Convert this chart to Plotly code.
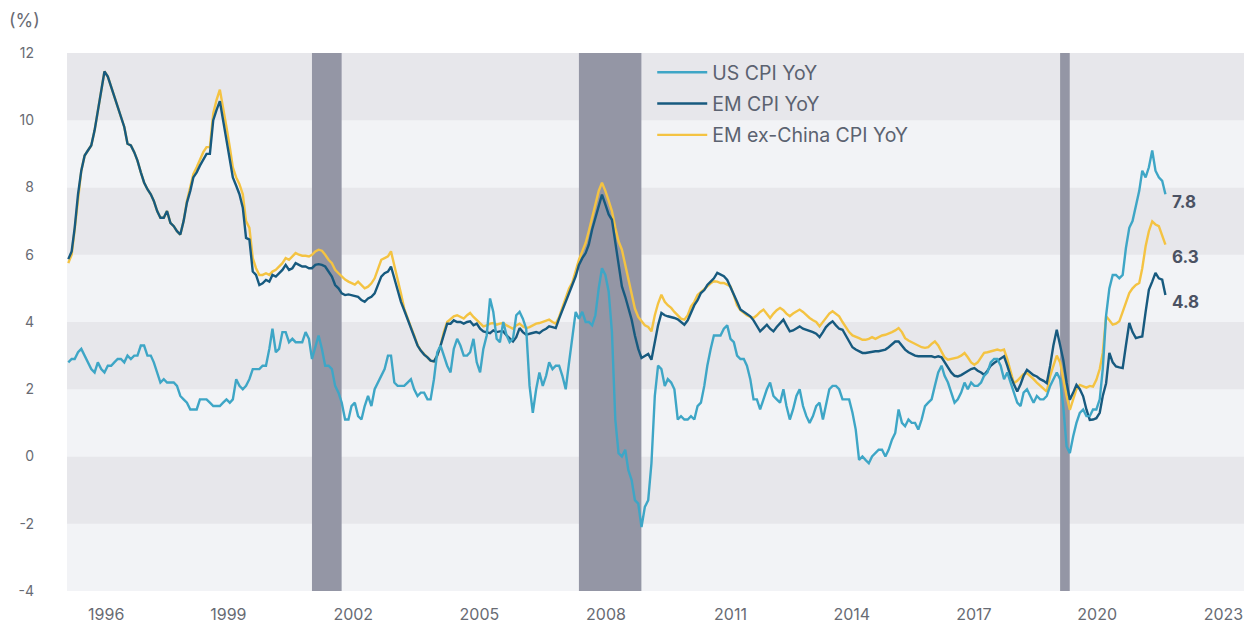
import pandas as pd
import plotly.graph_objects as go

months = pd.date_range("1995-01-01", "2022-10-01", freq="MS")

us_cpi = [
    2.8, 2.9, 2.9, 3.1, 3.2, 3.0, 2.8, 2.6, 2.5, 2.8, 2.6, 2.5,
    2.7, 2.7, 2.8, 2.9, 2.9, 2.8, 3.0, 2.9, 3.0, 3.0, 3.3, 3.3,
    3.0, 3.0, 2.8, 2.5, 2.2, 2.3, 2.2, 2.2, 2.2, 2.1, 1.8, 1.7,
    1.6, 1.4, 1.4, 1.4, 1.7, 1.7, 1.7, 1.6, 1.5, 1.5, 1.5, 1.6,
    1.7, 1.6, 1.7, 2.3, 2.1, 2.0, 2.1, 2.3, 2.6, 2.6, 2.6, 2.7,
    2.7, 3.2, 3.8, 3.1, 3.2, 3.7, 3.7, 3.4, 3.5, 3.4, 3.4, 3.4,
    3.7, 3.5, 2.9, 3.3, 3.6, 3.2, 2.7, 2.7, 2.6, 2.1, 1.9, 1.6,
    1.1, 1.1, 1.5, 1.6, 1.2, 1.1, 1.5, 1.8, 1.5, 2.0, 2.2, 2.4,
    2.6, 3.0, 3.0, 2.2, 2.1, 2.1, 2.1, 2.2, 2.3, 2.0, 1.8, 1.9,
    1.9, 1.7, 1.7, 2.3, 3.1, 3.3, 3.0, 2.7, 2.5, 3.2, 3.5, 3.3,
    3.0, 3.0, 3.1, 3.5, 2.8, 2.5, 3.2, 3.6, 4.7, 4.3, 3.5, 3.4,
    4.0, 3.6, 3.4, 3.5, 4.2, 4.3, 4.1, 3.8, 2.1, 1.3, 2.0, 2.5,
    2.1, 2.4, 2.8, 2.6, 2.7, 2.7, 2.4, 2.0, 2.8, 3.5, 4.3, 4.1,
    4.3, 4.0, 4.0, 3.9, 4.2, 5.0, 5.6, 5.4, 4.9, 3.7, 1.1, 0.1,
    0.0, 0.2, -0.4, -0.7, -1.3, -1.4, -2.1, -1.5, -1.3, -0.2, 1.8, 2.7,
    2.6, 2.1, 2.3, 2.2, 2.0, 1.1, 1.2, 1.1, 1.1, 1.2, 1.1, 1.5,
    1.6, 2.1, 2.7, 3.2, 3.6, 3.6, 3.6, 3.8, 3.9, 3.5, 3.4, 3.0,
    2.9, 2.9, 2.7, 2.3, 1.7, 1.7, 1.4, 1.7, 2.0, 2.2, 1.8, 1.7,
    1.6, 2.0, 1.5, 1.1, 1.4, 1.8, 2.0, 1.5, 1.2, 1.0, 1.2, 1.5,
    1.6, 1.1, 1.5, 2.0, 2.1, 2.1, 2.0, 1.7, 1.7, 1.7, 1.3, 0.8,
    -0.1, 0.0, -0.1, -0.2, 0.0, 0.1, 0.2, 0.2, 0.0, 0.2, 0.5, 0.7,
    1.4, 1.0, 0.9, 1.1, 1.0, 1.0, 0.8, 1.1, 1.5, 1.6, 1.7, 2.1,
    2.5, 2.7, 2.4, 2.2, 1.9, 1.6, 1.7, 1.9, 2.2, 2.0, 2.2, 2.1,
    2.1, 2.2, 2.4, 2.5, 2.8, 2.9, 2.9, 2.7, 2.3, 2.5, 2.2, 1.9,
    1.6, 1.5, 1.9, 2.0, 1.8, 1.6, 1.8, 1.7, 1.7, 1.8, 2.1, 2.3,
    2.5, 2.3, 1.5, 0.3, 0.1, 0.6, 1.0, 1.3, 1.4, 1.2, 1.2, 1.4,
    1.4, 1.7, 2.6, 4.2, 5.0, 5.4, 5.4, 5.3, 5.4, 6.2, 6.8, 7.0,
    7.5, 7.9, 8.5, 8.3, 8.6, 9.1, 8.5, 8.3, 8.2, 7.8,
]

em_cpi = [
    5.87, 6.1, 6.8, 7.8, 8.5, 8.95, 9.1, 9.25, 9.7, 10.3, 10.9, 11.45,
    11.3, 11.0, 10.7, 10.4, 10.1, 9.8, 9.3, 9.25, 9.05, 8.8, 8.45, 8.15,
    7.95, 7.8, 7.6, 7.3, 7.1, 7.1, 7.3, 6.95, 6.85, 6.7, 6.6, 7.0,
    7.55, 7.9, 8.3, 8.45, 8.65, 8.85, 9.0, 9.0, 10.0, 10.3, 10.57, 10.0,
    9.4, 8.8, 8.3, 8.05, 7.8, 7.4, 6.5, 6.45, 5.5, 5.4, 5.1, 5.15,
    5.25, 5.2, 5.4, 5.35, 5.45, 5.55, 5.7, 5.55, 5.6, 5.75, 5.7, 5.65,
    5.65, 5.6, 5.6, 5.7, 5.72, 5.7, 5.65, 5.5, 5.35, 5.1, 5.0, 4.85,
    4.8, 4.82, 4.8, 4.78, 4.75, 4.65, 4.6, 4.7, 4.75, 4.85, 5.1, 5.35,
    5.45, 5.5, 5.65, 5.3, 5.0, 4.6, 4.35, 4.1, 3.85, 3.6, 3.3, 3.15,
    3.03, 2.95, 2.85, 2.83, 3.0, 3.3, 3.65, 3.95, 3.95, 4.05, 4.0, 4.0,
    3.95, 4.0, 4.02, 3.9, 3.95, 3.8, 3.72, 3.7, 3.67, 3.75, 3.7, 3.72,
    3.72, 3.6, 3.5, 3.42, 3.55, 3.82, 3.7, 3.62, 3.65, 3.67, 3.7, 3.67,
    3.75, 3.8, 3.87, 3.85, 3.82, 4.1, 4.35, 4.57, 4.85, 5.1, 5.36, 5.7,
    5.9, 6.05, 6.3, 6.75, 7.1, 7.5, 7.79, 7.5, 7.2, 7.04, 6.4, 5.7,
    5.06, 4.75, 4.4, 4.07, 3.6, 3.2, 2.93, 3.0, 3.05, 2.88, 3.4, 3.9,
    4.27, 4.2, 4.17, 4.15, 4.12, 4.08, 4.0, 3.92, 4.05, 4.3, 4.5, 4.65,
    4.86, 4.95, 5.1, 5.2, 5.3, 5.46, 5.42, 5.36, 5.25, 5.05, 4.85, 4.6,
    4.37, 4.3, 4.22, 4.17, 4.05, 3.9, 3.72, 3.82, 3.92, 3.8, 3.72, 3.85,
    3.95, 4.07, 3.9, 3.72, 3.75, 3.82, 3.87, 3.8, 3.77, 3.75, 3.7, 3.65,
    3.55, 3.7, 3.85, 3.95, 4.02, 3.9, 3.8, 3.77, 3.6, 3.4, 3.25, 3.18,
    3.12, 3.08, 3.08, 3.1, 3.12, 3.13, 3.13, 3.15, 3.18, 3.25, 3.35, 3.42,
    3.42, 3.3, 3.18, 3.1, 3.05, 3.0, 2.98, 2.98, 3.0, 2.98, 2.98, 2.95,
    2.98, 2.95, 2.8, 2.65, 2.5, 2.4, 2.38, 2.42, 2.48, 2.55, 2.6, 2.63,
    2.55, 2.5, 2.43, 2.55, 2.7, 2.78, 2.85, 2.92, 2.98, 2.7, 2.38, 2.15,
    1.93, 2.15, 2.4, 2.58, 2.5, 2.42, 2.38, 2.3, 2.25, 2.18, 2.7, 3.3,
    3.77, 3.3, 2.88, 2.2, 1.69, 1.9, 2.13, 2.0, 1.79, 1.4, 1.09, 1.1,
    1.14, 1.3, 1.8, 2.18, 3.08, 2.8, 2.68, 2.65, 2.63, 3.3, 3.97, 3.7,
    3.52, 3.55, 3.57, 4.3, 4.96, 5.2, 5.46, 5.3, 5.26, 4.8,
]

em_ex_china_cpi = [
    5.75, 6.0, 6.75, 7.75, 8.5, 8.95, 9.1, 9.25, 9.7, 10.3, 10.9, 11.45,
    11.3, 11.0, 10.7, 10.4, 10.1, 9.8, 9.3, 9.25, 9.05, 8.8, 8.45, 8.15,
    7.95, 7.8, 7.6, 7.3, 7.1, 7.1, 7.3, 6.95, 6.85, 6.7, 6.6, 7.0,
    7.6, 8.0, 8.4, 8.6, 8.85, 9.05, 9.2, 9.2, 10.2, 10.6, 10.91, 10.4,
    9.8, 9.2, 8.6, 8.3, 8.1, 7.8, 7.0, 6.8, 5.9, 5.6, 5.4, 5.4,
    5.45, 5.4, 5.5, 5.55, 5.65, 5.75, 5.9, 5.85, 5.95, 6.05, 6.0, 5.97,
    5.97, 5.95, 6.0, 6.1, 6.15, 6.12, 6.0, 5.85, 5.75, 5.55, 5.45, 5.35,
    5.26, 5.2, 5.15, 5.11, 5.2, 5.1, 5.0, 5.05, 5.15, 5.3, 5.6, 5.85,
    5.9, 5.95, 6.1, 5.7, 5.3, 4.85, 4.4, 4.1, 3.85, 3.6, 3.32, 3.15,
    3.05, 2.95, 2.85, 2.83, 3.0, 3.3, 3.7, 4.0, 4.1, 4.17, 4.2, 4.15,
    4.1, 4.2, 4.27, 4.15, 4.05, 3.95, 3.87, 3.9, 3.95, 3.97, 3.92, 3.95,
    3.97, 3.9, 3.85, 3.8, 3.9, 3.95, 3.87, 3.82, 3.85, 3.9, 3.95, 3.97,
    4.0, 4.05, 4.07, 4.0, 3.95, 4.15, 4.45, 4.75, 5.0, 5.17, 5.5, 5.85,
    6.1, 6.35, 6.7, 7.1, 7.5, 7.9, 8.14, 7.9, 7.6, 7.3, 6.8, 6.4,
    6.15, 5.7, 5.3, 4.86, 4.4, 4.15, 4.02, 3.9, 3.85, 3.72, 4.2, 4.55,
    4.81, 4.6, 4.5, 4.42, 4.3, 4.2, 4.1, 4.07, 4.2, 4.46, 4.6, 4.8,
    4.9, 5.0, 5.06, 5.15, 5.21, 5.2, 5.16, 5.16, 5.12, 5.06, 4.8, 4.5,
    4.35, 4.27, 4.2, 4.15, 4.12, 4.2, 4.3, 4.37, 4.25, 4.12, 4.25, 4.35,
    4.42, 4.35, 4.25, 4.17, 4.25, 4.32, 4.37, 4.3, 4.2, 4.12, 4.05, 4.0,
    3.87, 4.0, 4.15, 4.25, 4.32, 4.25, 4.17, 4.0, 3.85, 3.7, 3.6, 3.57,
    3.52, 3.47, 3.47, 3.5, 3.55, 3.5, 3.55, 3.6, 3.62, 3.65, 3.7, 3.75,
    3.82, 3.7, 3.52, 3.45, 3.4, 3.37, 3.3, 3.25, 3.23, 3.25, 3.35, 3.42,
    3.3, 3.1, 2.95, 2.88, 2.9, 2.93, 2.95, 3.0, 3.08, 2.95, 2.8, 2.73,
    2.8, 2.95, 3.08, 3.1, 3.12, 3.15, 3.18, 3.15, 3.18, 2.9, 2.5, 2.18,
    2.25, 2.35, 2.45, 2.48, 2.4, 2.3, 2.2, 2.1, 2.0, 1.93, 2.4, 2.7,
    3.0, 2.8, 2.3, 1.8, 1.39, 1.7, 2.0, 2.13, 2.1, 2.05, 2.1, 2.08,
    2.28, 2.6, 3.08, 4.17, 4.05, 3.92, 3.95, 4.02, 4.3, 4.6, 4.86, 5.0,
    5.1, 5.16, 5.6, 6.25, 6.7, 6.99, 6.9, 6.85, 6.6, 6.3,
]

recession_starts = ["2001-03-01", "2007-12-01", "2020-02-01"]
recession_ends = ["2001-11-30", "2009-06-30", "2020-04-30"]

tick_dates = ["1995-12-17", "1999-01-19", "2002-03-17", "2005-05-26", "2008-08-07",
              "2011-10-01", "2014-10-26", "2017-11-26", "2021-01-08", "2024-03-20"]
tick_labels = ["1996", "1999", "2002", "2005", "2008", "2011", "2014", "2017", "2020", "2023"]

band_edges = [-4, -2, 0, 2, 4, 6, 8, 10, 12]
y_tick_labels = ["-4", "-2", "0", "2", "4", "6", "8", "10", "12"]

C_US = "#3ea6c6"
C_EM = "#175a7f"
C_EX = "#f4c342"
C_TEXT = "#686b73"
C_LABEL = "#4b5263"
FONT = "Inter, Roboto, sans-serif"

fig = go.Figure()

for i in range(len(band_edges) - 1):
    fig.add_shape(type="rect", xref="paper", yref="y", x0=0, x1=1,
                  y0=band_edges[i], y1=band_edges[i + 1],
                  fillcolor="#e7e7eb" if i % 2 == 1 else "#f2f3f6",
                  line_width=0, layer="below")

for s, e in zip(recession_starts, recession_ends):
    fig.add_shape(type="rect", xref="x", yref="paper", x0=s, x1=e, y0=0, y1=1,
                  fillcolor="#9496a5", line_width=0, layer="below")

series = [
    ("EM ex-China CPI YoY", em_ex_china_cpi, C_EX, 3, -12),
    ("EM CPI YoY", em_cpi, C_EM, 2, -7),
    ("US CPI YoY", us_cpi, C_US, 1, -8),
]

for name, vals, color, rank, yshift in series:
    fig.add_trace(go.Scatter(x=months, y=vals, name=name, mode="lines",
                             line=dict(color=color, width=2.4),
                             legendrank=rank, legendgroup=name,
                             hoverinfo="skip"))
    fig.add_annotation(x=months[-1], y=vals[-1], text=f"<b>{vals[-1]:.1f}</b>",
                       showarrow=False, xanchor="left", yanchor="middle",
                       xshift=5, yshift=yshift,
                       font=dict(family=FONT, size=17, color=C_LABEL))

fig.add_annotation(x=0, y=1, xref="paper", yref="paper", text="(%)",
                   showarrow=False, xanchor="left", yanchor="middle",
                   xshift=-60, yshift=33,
                   font=dict(family=FONT, size=18, color=C_TEXT))

# the page body adds an 8px offset, so the figure is drawn 8px smaller
fig.update_layout(
    width=1244, height=616,
    margin=dict(l=59, r=7, t=45, b=33, autoexpand=False),
    paper_bgcolor="white", plot_bgcolor="#f2f3f6",
    font=dict(family=FONT, size=15, color=C_TEXT),
    showlegend=True,
    legend=dict(x=0.4968, y=1.0, xanchor="left", yanchor="top",
                bgcolor="rgba(0,0,0,0)", borderwidth=0,
                font=dict(family=FONT, size=19.5, color="#5b6270"),
                tracegroupgap=3, itemwidth=50),
    xaxis=dict(type="date", range=["1994-12-20", "2024-10-05"],
               tickvals=tick_dates, ticktext=tick_labels, automargin=False,
               showgrid=False, zeroline=False, showline=False, ticks="",
               ticklabelstandoff=12,
               tickfont=dict(family=FONT, size=16, color=C_TEXT)),
    yaxis=dict(range=[-4, 12], tickvals=band_edges, ticktext=y_tick_labels,
               automargin=False,
               showgrid=False, zeroline=False, showline=False, ticks="",
               ticklabelstandoff=32,
               tickfont=dict(family=FONT, size=14, color=C_TEXT)),
)

fig.write_html("out.html")
